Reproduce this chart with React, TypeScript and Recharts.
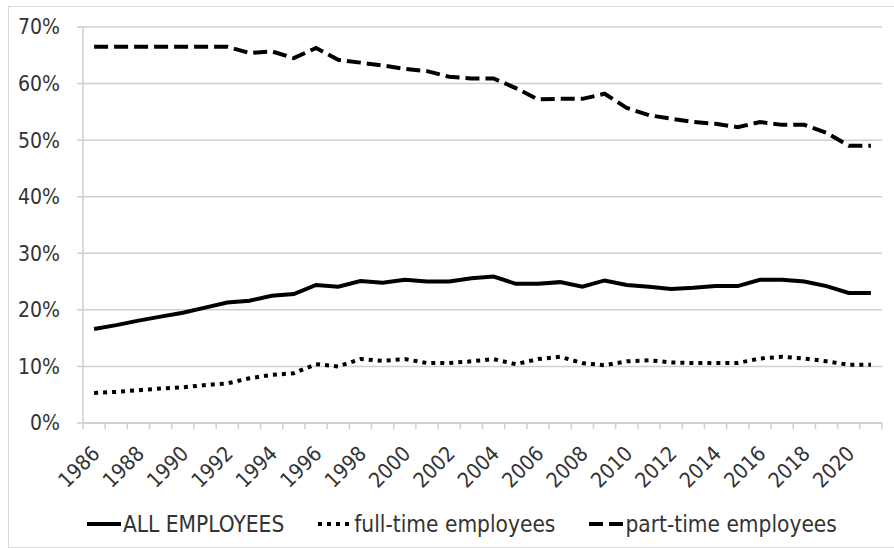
import { LineChart, Line, XAxis, YAxis, CartesianGrid, Legend } from "recharts";

const YEARS = [
  1986, 1987, 1988, 1989, 1990, 1991, 1992, 1993, 1994, 1995,
  1996, 1997, 1998, 1999, 2000, 2001, 2002, 2003, 2004, 2005,
  2006, 2007, 2008, 2009, 2010, 2011, 2012, 2013, 2014, 2015,
  2016, 2017, 2018, 2019, 2020, 2021,
];

const ALL_EMPLOYEES = [
  16.6, 17.3, 18.1, 18.8, 19.5, 20.4, 21.3, 21.6, 22.5, 22.8,
  24.4, 24.1, 25.1, 24.8, 25.3, 25.0, 25.0, 25.6, 25.9, 24.6,
  24.6, 24.9, 24.1, 25.2, 24.4, 24.1, 23.7, 23.9, 24.2, 24.2,
  25.3, 25.3, 25.0, 24.2, 23.0, 23.0,
];

const FULL_TIME = [
  5.3, 5.5, 5.8, 6.1, 6.3, 6.7, 7.0, 7.9, 8.5, 8.8,
  10.4, 10.0, 11.3, 11.0, 11.3, 10.6, 10.6, 10.9, 11.3, 10.4,
  11.3, 11.7, 10.6, 10.2, 10.9, 11.1, 10.7, 10.6, 10.6, 10.6,
  11.4, 11.7, 11.4, 10.9, 10.3, 10.3,
];

const PART_TIME = [
  66.5, 66.5, 66.5, 66.5, 66.5, 66.5, 66.5, 65.4, 65.7, 64.5,
  66.3, 64.2, 63.7, 63.2, 62.6, 62.2, 61.2, 60.9, 60.9, 59.2,
  57.2, 57.3, 57.3, 58.2, 55.7, 54.4, 53.8, 53.2, 52.9, 52.3,
  53.2, 52.7, 52.7, 51.3, 49.0, 49.0,
];

const Y_TICKS = [0, 10, 20, 30, 40, 50, 60, 70];

const SERIES = [
  { key: "all", name: "ALL EMPLOYEES", dash: undefined },
  { key: "full", name: "full-time employees", dash: "4 5" },
  { key: "part", name: "part-time employees", dash: "14 6" },
];

const data = YEARS.map((year, i) => ({
  year,
  all: ALL_EMPLOYEES[i],
  full: FULL_TIME[i],
  part: PART_TIME[i],
}));

const FONT = '"Liberation Sans Narrow", "DejaVu Sans Condensed", "Open Sans", sans-serif';
const TEXT = "#333";
const GRID = "#cfcfcf";
const WIDTH = 885;
const HEIGHT = 540;
const PLOT_W = 799;
const BAND = PLOT_W / YEARS.length;

function YearTick(props: any) {
  const { x, y, payload, index } = props;
  const half = BAND / 2;
  return (
    <g>
      <line x1={x - half} x2={x - half} y1={y} y2={y + 6} stroke={GRID} strokeWidth={1.5} />
      {index === YEARS.length - 1 && (
        <line x1={x + half} x2={x + half} y1={y} y2={y + 6} stroke={GRID} strokeWidth={1.5} />
      )}
      {index % 2 === 0 && (
        <text
          transform={`translate(${x + 2},${y + 27}) rotate(-45)`}
          textAnchor="end"
          dominantBaseline="central"
          fill={TEXT}
          fontSize={21}
          fontFamily={FONT}
        >
          {payload.value}
        </text>
      )}
    </g>
  );
}

function LegendContent() {
  return (
    <div
      style={{
        height: 30,
        display: "flex",
        alignItems: "center",
        paddingLeft: 78,
        fontFamily: FONT,
        fontSize: 22.5,
        color: TEXT,
        whiteSpace: "nowrap",
      }}
    >
      {SERIES.map((s) => (
        <div key={s.key} style={{ display: "flex", alignItems: "center", marginRight: 34 }}>
          <svg width={34} height={10} style={{ marginRight: 2 }}>
            <line x1={0} x2={34} y1={5} y2={5} stroke="#000" strokeWidth={4} strokeDasharray={s.dash} />
          </svg>
          <span>{s.name}</span>
        </div>
      ))}
    </div>
  );
}

export default function App() {
  return (
    <div
      style={{
        position: "absolute",
        left: 8,
        top: 6,
        width: 886,
        height: 542,
        boxSizing: "border-box",
        borderTop: "1px solid #d9d9d9",
        borderLeft: "1px solid #d9d9d9",
        borderBottom: "1px solid #d9d9d9",
        background: "#fff",
      }}
    >
      <LineChart width={WIDTH} height={HEIGHT} data={data} margin={{ top: 20, right: 12, left: 0, bottom: 8 }}>
        <CartesianGrid vertical={false} stroke={GRID} strokeWidth={1.5} />
        <XAxis
          dataKey="year"
          interval={0}
          padding={{ left: BAND / 2, right: BAND / 2 }}
          tickLine={false}
          tickSize={0}
          tickMargin={0}
          axisLine={{ stroke: GRID, strokeWidth: 1.5 }}
          tick={<YearTick />}
          height={86}
        />
        <YAxis
          domain={[0, 70]}
          ticks={Y_TICKS}
          width={74}
          tickFormatter={(v) => `${v}%`}
          tickLine={{ stroke: GRID, strokeWidth: 1.5 }}
          tickSize={6}
          tickMargin={17}
          axisLine={{ stroke: GRID, strokeWidth: 1.5 }}
          tick={{ fill: TEXT, fontSize: 21, fontFamily: FONT }}
        />
        <Legend verticalAlign="bottom" content={<LegendContent />} />
        {SERIES.map((s) => (
          <Line
            key={s.key}
            dataKey={s.key}
            name={s.name}
            stroke="#000"
            strokeWidth={4}
            strokeDasharray={s.dash}
            dot={false}
            activeDot={false}
            isAnimationActive={false}
          />
        ))}
      </LineChart>
    </div>
  );
}
